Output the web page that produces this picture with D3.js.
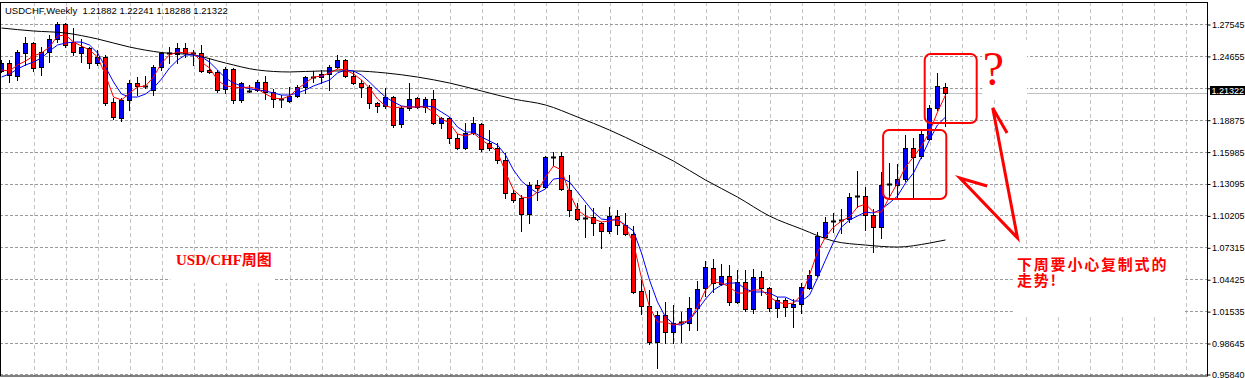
<!DOCTYPE html>
<html>
<head>
<meta charset="utf-8">
<script src="https://cdn.jsdelivr.net/npm/d3@7"></script>
<style>
  body { margin: 0; background: #fff; }
  svg { display: block; }
</style>
</head>
<body>
<svg id="chart" width="1245" height="378"></svg>
<script>
// ---- data ----
const headerText = "USDCHF,Weekly  1.21882 1.22241 1.18288 1.21322";
const lastClose = 1.21322;

const openPrices = [
  1.2329,1.2401,1.2283,1.2492,1.2582,1.2365,1.2501,1.2619,1.2755,1.2591,
  1.2492,1.2537,1.2401,1.2456,1.2048,1.1903,1.2066,1.2220,1.2189,1.2157,
  1.2365,1.2492,1.2483,1.2537,1.2492,1.2492,1.2338,1.2320,1.2166,1.2347,
  1.2066,1.2148,1.2157,1.2229,1.2138,1.2075,1.2057,1.2102,1.2184,1.2274,
  1.2274,1.2302,1.2365,1.2428,1.2283,1.2220,1.2184,1.2039,1.2012,1.2093,
  1.1849,1.1994,1.2084,1.2003,1.2075,1.1858,1.1903,1.1722,1.1631,1.1767,
  1.1849,1.1676,1.1631,1.1522,1.1223,1.1178,1.1033,1.1296,1.1278,1.1550,
  1.1559,1.1251,1.1079,1.0997,1.1006,1.0952,1.0879,1.1015,1.0934,1.0852,
  1.0336,1.0200,0.9874,1.0118,0.9964,1.0055,1.0046,1.0182,1.0363,1.0544,
  1.0399,1.0471,1.0236,1.0417,1.0172,1.0462,1.0363,1.0182,1.0254,1.0191,
  1.0218,1.0363,1.0480,1.0825,1.0970,1.0979,1.0988,1.1196,1.1196,1.1024,
  1.0915,1.1305,1.1296,1.1350,1.1631,1.1559,1.1713,1.1994,1.21882
];
const highPrices = [
  1.2428,1.2428,1.2519,1.2637,1.2591,1.2546,1.2655,1.2773,1.2764,1.2718,
  1.2619,1.2546,1.2519,1.2474,1.2084,1.2084,1.2247,1.2274,1.2283,1.2383,
  1.2501,1.2546,1.2582,1.2582,1.2519,1.2564,1.2447,1.2338,1.2365,1.2356,
  1.2229,1.2202,1.2247,1.2283,1.2166,1.2111,1.2184,1.2202,1.2283,1.2329,
  1.2338,1.2383,1.2474,1.2437,1.2329,1.2247,1.2202,1.2048,1.2175,1.2098,
  1.2012,1.2220,1.2093,1.2093,1.2157,1.1912,1.1912,1.1758,1.1858,1.1912,
  1.1858,1.1794,1.1676,1.1586,1.1251,1.1205,1.1323,1.1341,1.1559,1.1595,
  1.1595,1.1387,1.1133,1.1115,1.1088,1.0960,1.1097,1.1070,1.1042,1.0924,
  1.0435,1.0345,1.0154,1.0236,1.0209,1.0145,1.0281,1.0426,1.0607,1.0626,
  1.0580,1.0571,1.0526,1.0526,1.0535,1.0517,1.0368,1.0281,1.0272,1.0263,
  1.0408,1.0526,1.0870,1.1006,1.1042,1.1079,1.1223,1.1423,1.1278,1.1079,
  1.1414,1.1495,1.1486,1.1749,1.1722,1.1803,1.2021,1.2311,1.22241
];
const lowPrices = [
  1.2320,1.2229,1.2247,1.2383,1.2329,1.2292,1.2410,1.2591,1.2546,1.2474,
  1.2410,1.2356,1.2383,1.2021,1.1894,1.1876,1.1975,1.2111,1.2175,1.2111,
  1.2338,1.2401,1.2401,1.2456,1.2383,1.2320,1.2311,1.2138,1.2129,1.2039,
  1.2048,1.2138,1.2148,1.2075,1.2003,1.2003,1.2048,1.2093,1.2129,1.2229,
  1.2220,1.2157,1.2356,1.2274,1.2211,1.2093,1.1994,1.1957,1.1994,1.1821,
  1.1821,1.1975,1.1994,1.1957,1.1850,1.1812,1.1676,1.1622,1.1622,1.1760,
  1.1604,1.1613,1.1495,1.1178,1.1142,1.0879,1.0952,1.1160,1.1269,1.1477,
  1.1251,1.1015,1.0979,1.0825,1.0843,1.0725,1.0861,1.0852,1.0843,1.0317,
  1.0127,0.9855,0.9638,0.9865,0.9865,0.9874,0.9982,0.9982,1.0290,1.0327,
  1.0390,1.0209,1.0227,1.0154,1.0136,1.0299,1.0154,1.0100,1.0109,1.0009,
  1.0136,1.0358,1.0471,1.0816,1.0870,1.0861,1.0961,1.1097,1.0888,1.0689,
  1.0816,1.1178,1.1187,1.1332,1.1187,1.1541,1.1704,1.1975,1.18288
];
const closePrices = [
  1.2401,1.2292,1.2501,1.2582,1.2356,1.2501,1.2619,1.2755,1.2564,1.2501,
  1.2546,1.2401,1.2456,1.2039,1.1912,1.2066,1.2220,1.2193,1.2189,1.2365,
  1.2492,1.2492,1.2537,1.2492,1.2492,1.2329,1.2320,1.2157,1.2347,1.2066,
  1.2220,1.2148,1.2229,1.2138,1.2075,1.2075,1.2102,1.2184,1.2274,1.2274,
  1.2302,1.2365,1.2428,1.2283,1.2220,1.2184,1.2039,1.2012,1.2093,1.1840,
  1.1994,1.2075,1.2003,1.2075,1.1858,1.1903,1.1722,1.1631,1.1767,1.1858,
  1.1622,1.1631,1.1522,1.1223,1.1160,1.1033,1.1296,1.1269,1.1550,1.1550,
  1.1260,1.1070,1.0988,1.0997,1.0952,1.0879,1.1015,1.0934,1.0852,1.0327,
  1.0200,0.9874,1.0118,0.9964,1.0046,1.0055,1.0182,1.0354,1.0553,1.0408,
  1.0471,1.0236,1.0417,1.0172,1.0462,1.0363,1.0182,1.0254,1.0191,1.0218,
  1.0372,1.0480,1.0834,1.0961,1.0970,1.0979,1.1187,1.1196,1.1024,1.0915,
  1.1296,1.1305,1.1350,1.1631,1.1550,1.1758,1.1994,1.2193,1.21322
];

// fast (red) and medium (blue) moving averages, one value per bar
const fastMa = [
  1.2338,1.2329,1.2383,1.2419,1.2465,1.2492,1.2546,1.2646,1.2655,1.2591,
  1.2555,1.2519,1.2456,1.2292,1.2093,1.2066,1.2129,1.2184,1.2193,1.2274,
  1.2401,1.2474,1.2501,1.2492,1.2492,1.2410,1.2356,1.2247,1.2193,1.2184,
  1.2175,1.2184,1.2166,1.2120,1.2084,1.2075,1.2102,1.2166,1.2220,1.2274,
  1.2283,1.2311,1.2347,1.2338,1.2302,1.2247,1.2175,1.2075,1.2012,1.1994,
  1.2003,1.2003,1.2003,1.2003,1.1957,1.1894,1.1858,1.1758,1.1740,1.1767,
  1.1704,1.1658,1.1595,1.1414,1.1251,1.1187,1.1178,1.1233,1.1369,1.1468,
  1.1432,1.1223,1.1070,1.1015,1.0988,1.0961,1.0970,1.0997,1.0915,1.0770,
  1.0453,1.0191,1.0055,1.0055,1.0027,1.0046,1.0073,1.0191,1.0345,1.0417,
  1.0408,1.0372,1.0317,1.0317,1.0345,1.0345,1.0281,1.0236,1.0218,1.0227,
  1.0299,1.0480,1.0689,1.0825,1.0915,1.0970,1.1006,1.1097,1.1124,1.1051,
  1.1051,1.1187,1.1314,1.1459,1.1550,1.1649,1.1776,1.1957,1.2111
];
const slowMa = [
  1.2274,1.2302,1.2347,1.2383,1.2410,1.2447,1.2510,1.2564,1.2582,1.2591,
  1.2591,1.2564,1.2492,1.2365,1.2229,1.2120,1.2093,1.2093,1.2120,1.2175,
  1.2256,1.2356,1.2428,1.2474,1.2474,1.2456,1.2410,1.2338,1.2265,1.2220,
  1.2193,1.2166,1.2157,1.2148,1.2129,1.2111,1.2111,1.2129,1.2157,1.2193,
  1.2220,1.2247,1.2311,1.2338,1.2329,1.2292,1.2229,1.2157,1.2093,1.2048,
  1.2012,1.2003,1.2003,1.2012,1.2003,1.1957,1.1912,1.1821,1.1776,1.1776,
  1.1731,1.1695,1.1658,1.1568,1.1432,1.1332,1.1269,1.1223,1.1260,1.1350,
  1.1359,1.1323,1.1233,1.1142,1.1051,1.0988,1.0979,1.0979,1.0934,1.0879,
  1.0680,1.0435,1.0236,1.0100,1.0037,1.0027,1.0073,1.0163,1.0263,1.0345,
  1.0390,1.0408,1.0408,1.0354,1.0327,1.0327,1.0317,1.0281,1.0281,1.0245,
  1.0245,1.0299,1.0453,1.0616,1.0779,1.0915,1.0979,1.1015,1.1051,1.1042,
  1.1079,1.1133,1.1196,1.1314,1.1405,1.1550,1.1704,1.1840,1.1912
];

// long (black) moving average, read every fourth bar
const longMaBars = [0,4,8,12,16,20,24,28,32,36,40,44,48,52,56,60,64,68,72,76,80,84,88,92,96,100,104,108,112,116,118];
const longMaValues = [
  1.2718,1.2691,1.2673,1.2619,1.2546,1.2496,1.2474,1.2401,1.2338,1.2320,
  1.2329,1.2329,1.2311,1.2274,1.2220,1.2148,1.2075,1.2021,1.1912,1.1794,
  1.1658,1.1513,1.1341,1.1187,1.1015,1.0897,1.0788,1.0752,1.0734,1.0770,1.0798
];

const priceTicks = [1.27545,1.24655,1.21765,1.18875,1.15985,1.13095,1.10205,1.07315,1.04425,1.01535,0.98645,0.95840];

// ---- layout ----
const W = 1245, H = 378;
const PLOT = {left: 0, top: 2, right: 1207, bottom: 376};
const BAR_STEP = 8;
const AXIS_FONT = 'Liberation Sans, Arial, sans-serif';

const svg = d3.select('#chart');
svg.append('rect').attr('width', W).attr('height', H).attr('fill', '#fff');

const xScale = d3.scaleLinear()
  .domain([0, 150])
  .range([1.5, 1.5 + 150 * BAR_STEP]);

const yScale = d3.scaleLinear()
  .domain([0.95840, 1.27545])
  .range([374, 24]);

const candles = openPrices.map((o, i) => ({
  i: i, o: o, h: highPrices[i], l: lowPrices[i], c: closePrices[i]
}));

// grid
const gridBars = d3.range(4, 150, 4).filter(b => xScale(b) < PLOT.right);
svg.append('g')
  .selectAll('line')
  .data(gridBars)
  .join('line')
  .attr('x1', d => Math.round(xScale(d)) + 0.5)
  .attr('x2', d => Math.round(xScale(d)) + 0.5)
  .attr('y1', PLOT.top)
  .attr('y2', PLOT.bottom)
  .attr('stroke', '#c4c4c4')
  .attr('stroke-dasharray', '4,3');

svg.append('g')
  .selectAll('line')
  .data(priceTicks)
  .join('line')
  .attr('x1', PLOT.left)
  .attr('x2', PLOT.right)
  .attr('y1', d => Math.round(yScale(d)) + 0.5)
  .attr('y2', d => Math.round(yScale(d)) + 0.5)
  .attr('stroke', '#9a9a9a')
  .attr('stroke-dasharray', '3,2');

// bid line
svg.append('line')
  .attr('x1', PLOT.left).attr('x2', PLOT.right)
  .attr('y1', Math.round(yScale(lastClose)) + 0.5)
  .attr('y2', Math.round(yScale(lastClose)) + 0.5)
  .attr('stroke', '#c0c0c0');

// candles
const candleG = svg.append('g');
candleG.selectAll('line.wick')
  .data(candles)
  .join('line')
  .attr('class', 'wick')
  .attr('x1', d => xScale(d.i))
  .attr('x2', d => xScale(d.i))
  .attr('y1', d => Math.round(yScale(d.h)))
  .attr('y2', d => Math.round(yScale(d.l)) + 1)
  .attr('stroke', '#000');

const isDoji = d => Math.abs(yScale(d.o) - yScale(d.c)) < 1.5;

candleG.selectAll('rect.body')
  .data(candles.filter(d => !isDoji(d)))
  .join('rect')
  .attr('class', 'body')
  .attr('x', d => xScale(d.i) - 2)
  .attr('width', 4)
  .attr('y', d => Math.round(yScale(Math.max(d.o, d.c))) + 0.5)
  .attr('height', d => Math.round(yScale(Math.min(d.o, d.c))) - Math.round(yScale(Math.max(d.o, d.c))))
  .attr('fill', d => d.c >= d.o ? '#0000ff' : '#ff0000')
  .attr('stroke', '#000');

candleG.selectAll('line.doji')
  .data(candles.filter(isDoji))
  .join('line')
  .attr('class', 'doji')
  .attr('x1', d => xScale(d.i) - 2.5)
  .attr('x2', d => xScale(d.i) + 2.5)
  .attr('y1', d => Math.round(yScale(d.c)) + 0.5)
  .attr('y2', d => Math.round(yScale(d.c)) + 0.5)
  .attr('stroke', '#000')
  .attr('stroke-width', 2);

// moving averages
const maLine = d3.line()
  .x(d => xScale(d[0]))
  .y(d => yScale(d[1]));

svg.append('path')
  .datum(longMaBars.map((b, k) => [b, longMaValues[k]]))
  .attr('d', maLine.curve(d3.curveMonotoneX))
  .attr('fill', 'none')
  .attr('stroke', '#000');

maLine.curve(d3.curveLinear);
svg.append('path')
  .datum(slowMa.map((v, i) => [i, v]))
  .attr('d', maLine)
  .attr('fill', 'none')
  .attr('stroke', '#0000ff');

svg.append('path')
  .datum(fastMa.map((v, i) => [i, v]))
  .attr('d', maLine)
  .attr('fill', 'none')
  .attr('stroke', '#ff0000');

// ---- annotations (placed in bar / price units) ----
const noteRed = '#ff0000';
const whiteBoxes = [
  {b0: 21.1, b1: 34.2, p0: 1.0607, p1: 1.0408},
  {b0: 122.6, b1: 128.2, p0: 1.2610, p1: 1.2066},
  {b0: 126.4, b1: 147.8, p0: 1.0716, p1: 1.0127}
];
svg.append('g')
  .selectAll('rect')
  .data(whiteBoxes)
  .join('rect')
  .attr('x', d => xScale(d.b0))
  .attr('y', d => yScale(d.p0))
  .attr('width', d => xScale(d.b1) - xScale(d.b0))
  .attr('height', d => yScale(d.p1) - yScale(d.p0))
  .attr('fill', '#fff');

const roundBoxes = [
  {b0: 110.2, b1: 118.1, p0: 1.1794, p1: 1.1169},
  {b0: 115.4, b1: 121.9, p0: 1.2483, p1: 1.1858}
];
svg.append('g')
  .selectAll('rect')
  .data(roundBoxes)
  .join('rect')
  .attr('x', d => xScale(d.b0))
  .attr('y', d => yScale(d.p0))
  .attr('width', d => xScale(d.b1) - xScale(d.b0))
  .attr('height', d => yScale(d.p1) - yScale(d.p0))
  .attr('rx', 6)
  .attr('fill', 'none')
  .attr('stroke', noteRed)
  .attr('stroke-width', 2);

// hand drawn arrows: [bar, price] points
const arrowPaths = [
  [[123.2, 1.1287], [119.8, 1.1359], [127.0, 1.0816], [123.9, 1.1994], [125.7, 1.1767]]
];
svg.append('g')
  .selectAll('path')
  .data(arrowPaths)
  .join('path')
  .attr('d', d3.line().x(d => xScale(d[0])).y(d => yScale(d[1])))
  .attr('fill', 'none')
  .attr('stroke', noteRed)
  .attr('stroke-width', 3)
  .attr('stroke-linejoin', 'miter');

svg.append('text')
  .attr('x', xScale(124.0))
  .attr('y', yScale(1.2202))
  .attr('text-anchor', 'middle')
  .attr('font-family', 'Liberation Serif, serif')
  .attr('font-size', 48)
  .attr('fill', noteRed)
  .text('?');

svg.append('text')
  .attr('x', 176)
  .attr('y', 265)
  .attr('font-family', 'Liberation Serif, "Noto Sans CJK SC", serif')
  .attr('font-weight', 'bold')
  .attr('font-size', 15)
  .attr('fill', noteRed)
  .text('USD/CHF周图');

const noteLines = ['下周要小心复制式的', '走势!'];
svg.append('g')
  .selectAll('text')
  .data(noteLines)
  .join('text')
  .attr('x', 1017)
  .attr('y', (d, k) => 270 + k * 16)
  .attr('font-family', '"Noto Sans CJK SC", sans-serif')
  .attr('font-weight', 'bold')
  .attr('font-size', 15)
  .attr('letter-spacing', 1.8)
  .attr('fill', noteRed)
  .text(d => d);

// ---- frame, header and price axis ----
svg.append('rect')
  .attr('x', PLOT.left + 0.5)
  .attr('y', PLOT.top + 0.5)
  .attr('width', PLOT.right - PLOT.left)
  .attr('height', PLOT.bottom - PLOT.top - 0.5)
  .attr('fill', 'none')
  .attr('stroke', '#000');

svg.append('text')
  .attr('x', 5)
  .attr('y', 14)
  .attr('font-family', AXIS_FONT)
  .attr('font-size', 9.5)
  .style('white-space', 'pre')
  .attr('fill', '#000')
  .text(headerText);

const yAxis = d3.axisRight(yScale)
  .tickValues(priceTicks)
  .tickFormat(d3.format('.5f'))
  .tickSize(3)
  .tickPadding(1.5);

const axisG = svg.append('g')
  .attr('transform', `translate(${PLOT.right + 0.5}, 0.5)`)
  .call(yAxis);
axisG.select('.domain').remove();
axisG.selectAll('text')
  .attr('font-family', AXIS_FONT)
  .attr('font-size', 9)
  .attr('fill', '#000');
axisG.selectAll('line').attr('stroke', '#000');

// current price label
const lastY = Math.round(yScale(lastClose));
svg.append('rect')
  .attr('x', PLOT.right + 3)
  .attr('y', lastY - 7)
  .attr('width', W - PLOT.right - 3)
  .attr('height', 9)
  .attr('fill', '#000');
svg.append('text')
  .attr('x', PLOT.right + 4.5)
  .attr('y', lastY + 1)
  .attr('font-family', AXIS_FONT)
  .attr('font-size', 9)
  .attr('fill', '#fff')
  .text(d3.format('.5f')(lastClose));
</script>
</body>
</html>
